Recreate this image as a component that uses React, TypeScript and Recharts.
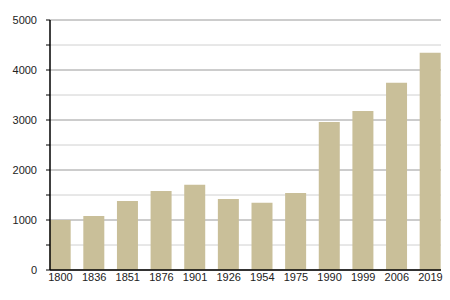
import { Bar, BarChart, CartesianGrid, XAxis, YAxis } from "recharts";

const years = ["1800", "1836", "1851", "1876", "1901", "1926", "1954", "1975", "1990", "1999", "2006", "2019"];
const population = [1000, 1080, 1380, 1580, 1706, 1420, 1346, 1540, 2960, 3180, 3746, 4346];
const yTicks = [0, 500, 1000, 1500, 2000, 2500, 3000, 3500, 4000, 4500, 5000];

const data = years.map((year, i) => ({ year, value: population[i] }));

const FONT = "'Liberation Sans', Arial, sans-serif";

type GridLineProps = { x1?: number; x2?: number; y1?: number; y2?: number; index?: number };

function GridLine({ x1, x2, y1, y2, index = 0 }: GridLineProps) {
  // lines at multiples of 1000 are darker than the half-step ones
  const major = index % 2 === 0;
  return (
    <line
      x1={x1}
      x2={x2}
      y1={y1}
      y2={y2}
      stroke={major ? "#9a9a9a" : "#d0d0d0"}
      strokeWidth={1}
    />
  );
}

export default function App() {
  return (
    <div style={{ position: "absolute", left: 0, top: 0, width: 450, height: 300, background: "#fff" }}>
      <BarChart width={450} height={300} data={data} margin={{ top: 20, right: 9, bottom: 10, left: 0 }}>
        <CartesianGrid vertical={false} horizontal={(p: GridLineProps) => <GridLine key={`g${p.index}`} {...p} />} />
        <XAxis
          dataKey="year"
          scale="point"
          padding={{ left: 10.5, right: 10.5 }}
          height={20}
          tickLine={false}
          tickSize={3}
          tickMargin={0}
          axisLine={{ stroke: "#000", strokeWidth: 1.5 }}
          tick={{ fill: "#222", fontSize: 11, fontFamily: FONT }}
          interval={0}
        />
        <YAxis
          width={50}
          domain={[0, 5000]}
          ticks={yTicks}
          interval={0}
          tickSize={4}
          tickMargin={9}
          tickLine={{ stroke: "#000" }}
          axisLine={{ stroke: "#000", strokeWidth: 1.5 }}
          tickFormatter={(v: number) => (v % 1000 === 0 ? String(v) : "")}
          tick={{ fill: "#222", fontSize: 11, fontFamily: FONT }}
        />
        <Bar dataKey="value" fill="#c9bf99" barSize={21} isAnimationActive={false} />
      </BarChart>
    </div>
  );
}
